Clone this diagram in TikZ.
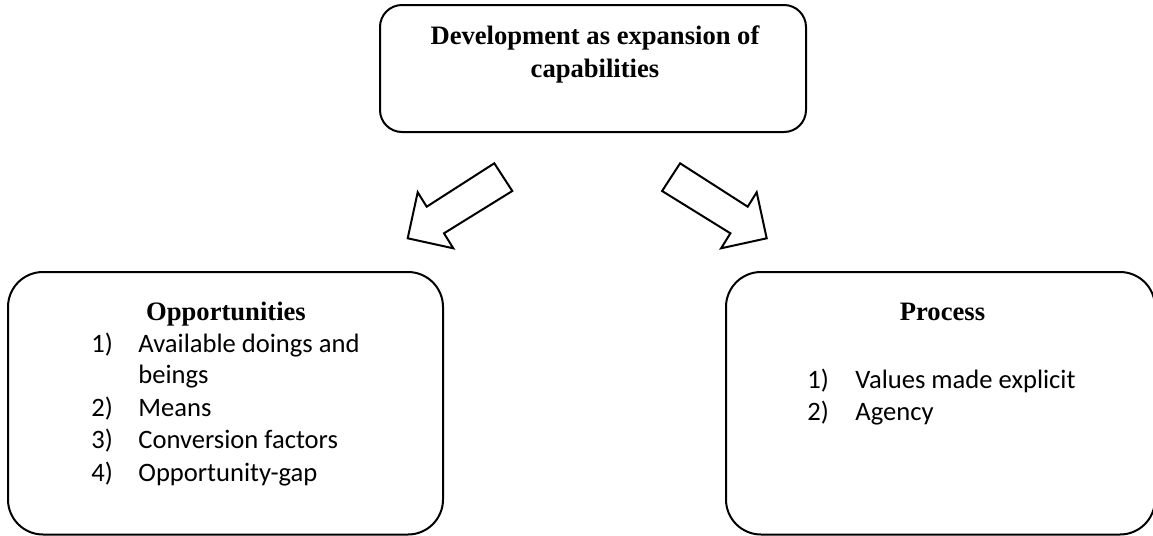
\documentclass[tikz,border=0pt]{standalone}
\usepackage{fontspec}
\setmainfont{Liberation Serif}
\newfontfamily\calibri{Carlito}
\begin{document}
\begin{tikzpicture}[x=0.5pt,y=-0.5pt,
  box/.style={draw=black,line width=1pt,rounded corners=17.5pt},
  topbox/.style={draw=black,line width=1pt,rounded corners=11pt},
  bigarrow/.style={draw=black,line width=1pt,fill=white,line join=miter},
  title/.style={inner sep=0pt,anchor=base,font=\fontsize{13.3}{16}\selectfont\bfseries},
  num/.style={inner sep=0pt,anchor=base west,font=\calibri\fontsize{13.3}{16}\selectfont},
  item/.style={inner sep=0pt,anchor=base west,font=\calibri\fontsize{13.3}{16}\selectfont}]
\useasboundingbox (0,0) rectangle (1153,536);
% boxes
\draw[topbox] (380,5) rectangle (806,132);
\draw[box] (8,272) rectangle (443,534.5);
\draw[box] (726,272) rectangle (1155,534.5);
% top text
\node[title] (t1) at (595,44) {Development as expansion of};
\node[title] (t2) at (595,77) {capabilities};
% arrows
\draw[bigarrow] (494.3,163.3) -- (426.7,206.7) -- (417.7,192.3) -- (407.7,238.3)
  -- (453.3,248.3) -- (444,233.3) -- (512.3,191) -- cycle;
\draw[bigarrow] (680.1,163.3) -- (747.7,206.7) -- (756.7,192.3) -- (766.7,238.3)
  -- (721.1,248.3) -- (730.4,233.3) -- (662.1,191) -- cycle;
% left box text
\node[title] (opp) at (226,320) {Opportunities};
\node[num] (n1) at (91,352) {1)};
\node[item] (i1) at (138,352) {Available doings and};
\node[item] (i1b) at (138,383) {beings};
\node[num] (n2) at (91,416) {2)};
\node[item] (i2) at (138,416) {Means};
\node[num] (n3) at (91,448) {3)};
\node[item] (i3) at (138,448) {Conversion factors};
\node[num] (n4) at (91,481) {4)};
\node[item] (i4) at (138,481) {Opportunity-gap};
% right box text
\node[title] (proc) at (942.5,320) {Process};
\node[num] (m1) at (807,388) {1)};
\node[item] (j1) at (855,388) {Values made explicit};
\node[num] (m2) at (807,420) {2)};
\node[item] (j2) at (855,420) {Agency};
\end{tikzpicture}
\end{document}
